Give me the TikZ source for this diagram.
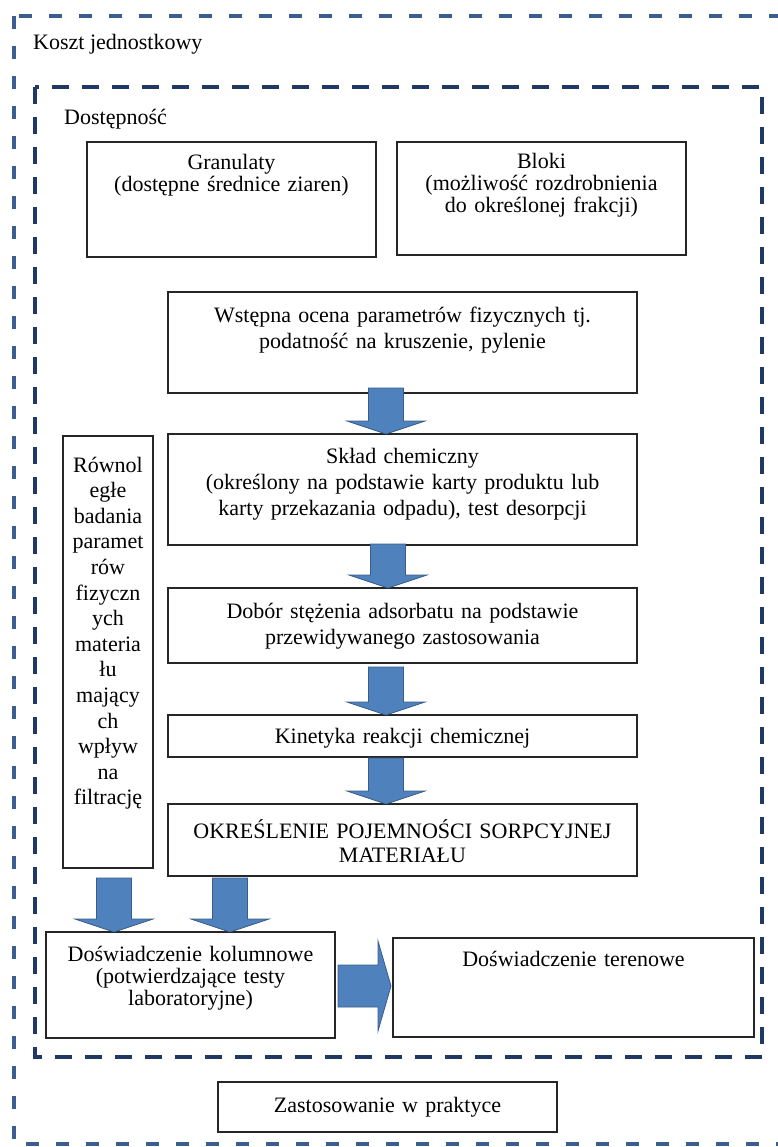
\documentclass[tikz,border=0pt]{standalone}
\usepackage{fontspec}
\setmainfont{Liberation Serif}
\usetikzlibrary{calc}

\definecolor{outerdash}{HTML}{3B5E91}
\definecolor{innerdash}{HTML}{203864}
\definecolor{arrowfill}{HTML}{4F81BD}
\definecolor{arrowline}{HTML}{385D8A}

\newcommand{\fs}{\fontsize{22}{26}\selectfont}
\newcommand{\fsn}{\fontsize{22}{22}\selectfont}

% block arrow pointing down: [start gap]{x}{from}{to}
\newcommand{\blockdown}[4][0]{%
  \draw[blockarrow] let \p1=(#3.south), \p2=(#4.north) in
    ({#2pt-17.5pt},{\y1-(#1pt)}) -- ({#2pt+17.5pt},{\y1-(#1pt)}) -- ({#2pt+17.5pt},{\y2+13pt})
    -- ({#2pt+39pt},{\y2+13pt}) -- ({#2pt},{\y2}) -- ({#2pt-39pt},{\y2+13pt})
    -- ({#2pt-17.5pt},{\y2+13pt}) -- cycle;}

% block arrow pointing right: {y}{from}{to}
\newcommand{\blockright}[3]{%
  \draw[blockarrow] let \p1=(#2.east), \p2=(#3.west) in
    ({\x1+3pt},{-#1pt+21pt}) -- ({\x2-15pt},{-#1pt+21pt}) -- ({\x2-15pt},{-#1pt+45pt})
    -- ({\x2-2pt},{-#1pt}) -- ({\x2-15pt},{-#1pt-45pt}) -- ({\x2-15pt},{-#1pt-21pt})
    -- ({\x1+3pt},{-#1pt-21pt}) -- cycle;}

\begin{document}
\begin{tikzpicture}[x=1pt,y=-1pt,
    box/.style={draw=black!85, line width=1.2pt, inner sep=0pt, outer sep=0pt,
      align=center, font=\fs, anchor=north west},
    lbl/.style={inner sep=0pt, font=\fs, anchor=base west},
    blockarrow/.style={fill=arrowfill, draw=arrowline, line width=0.8pt, line join=miter},
    outerframe/.style={draw=outerdash, line width=4.5pt, dash pattern=on 13pt off 17pt},
    innerframe/.style={draw=innerdash, line width=4.5pt, dash pattern=on 17pt off 13pt}]
    \useasboundingbox (0,0) rectangle (778,1147);

    % Frames
    \draw[outerframe] (14,16) rectangle (800,1144);
    \draw[innerframe] (35,87) rectangle (762,1057);
    \node[lbl] (koszt) at (33,50) {Koszt jednostkowy};
    \node[lbl] (dost) at (64,125) {Dostępność};

    % Boxes
    \node[box, font=\fsn, text width=289pt, text height=28pt, text depth=87pt] (gran) at (87,142)
        {Granulaty\\(dostępne średnice ziaren)};
    \node[box, font=\fsn, text width=289pt, text height=27pt, text depth=86pt] (bloki) at (397,142)
        {Bloki\\(możliwość rozdrobnienia\\do określonej frakcji)};
    \node[box, text width=469pt, text height=30pt, text depth=71pt] (wst) at (168,292)
        {Wstępna ocena parametrów fizycznych tj.\\podatność na kruszenie, pylenie};
    \node[box, text width=469pt, text height=29pt, text depth=82pt] (sklad) at (168,434)
        {Skład chemiczny\\(określony na podstawie karty produktu lub\\karty przekazania odpadu), test desorpcji};
    \node[box, text width=469pt, text height=30pt, text depth=45pt] (dobor) at (168,588)
        {Dobór stężenia adsorbatu na podstawie\\przewidywanego zastosowania};
    \node[box, text width=469pt, text height=28pt, text depth=14pt] (kin) at (168,715)
        {Kinetyka reakcji chemicznej};
    \node[box, font=\fontsize{22}{24.5}\selectfont, text width=469pt, text height=34pt, text depth=38pt] (okr) at (168,804)
        {OKREŚLENIE POJEMNOŚCI SORPCYJNEJ\\MATERIAŁU};
    \node[box, font=\fontsize{22}{25.6}\selectfont, text width=90pt, text height=36pt, text depth=396pt] (row) at (63,436)
        {Równol\\egłe\\badania\\paramet\\rów\\fizyczn\\ych\\materia\\łu\\mający\\ch\\wpływ\\na\\filtrację};
    \node[box, font=\fsn, text width=289pt, text height=29pt, text depth=77pt] (kol) at (46,932)
        {Doświadczenie kolumnowe\\(potwierdzające testy\\laboratoryjne)};
    \node[box, text width=361pt, text height=28pt, text depth=71pt] (ter) at (393,938)
        {Doświadczenie terenowe};
    \node[box, text width=339pt, text height=30pt, text depth=20pt] (zast) at (218,1082)
        {Zastosowanie w praktyce};

    % Block arrows
    \blockdown[-5]{386}{wst}{sklad}
    \blockdown[-1]{388}{sklad}{dobor}
    \blockdown[4]{386}{dobor}{kin}
    \blockdown[1]{386}{kin}{okr}
    \blockdown[10]{114}{row}{kol}
    \blockdown[2]{230}{okr}{kol}
    \blockright{986}{kol}{ter}
\end{tikzpicture}
\end{document}
